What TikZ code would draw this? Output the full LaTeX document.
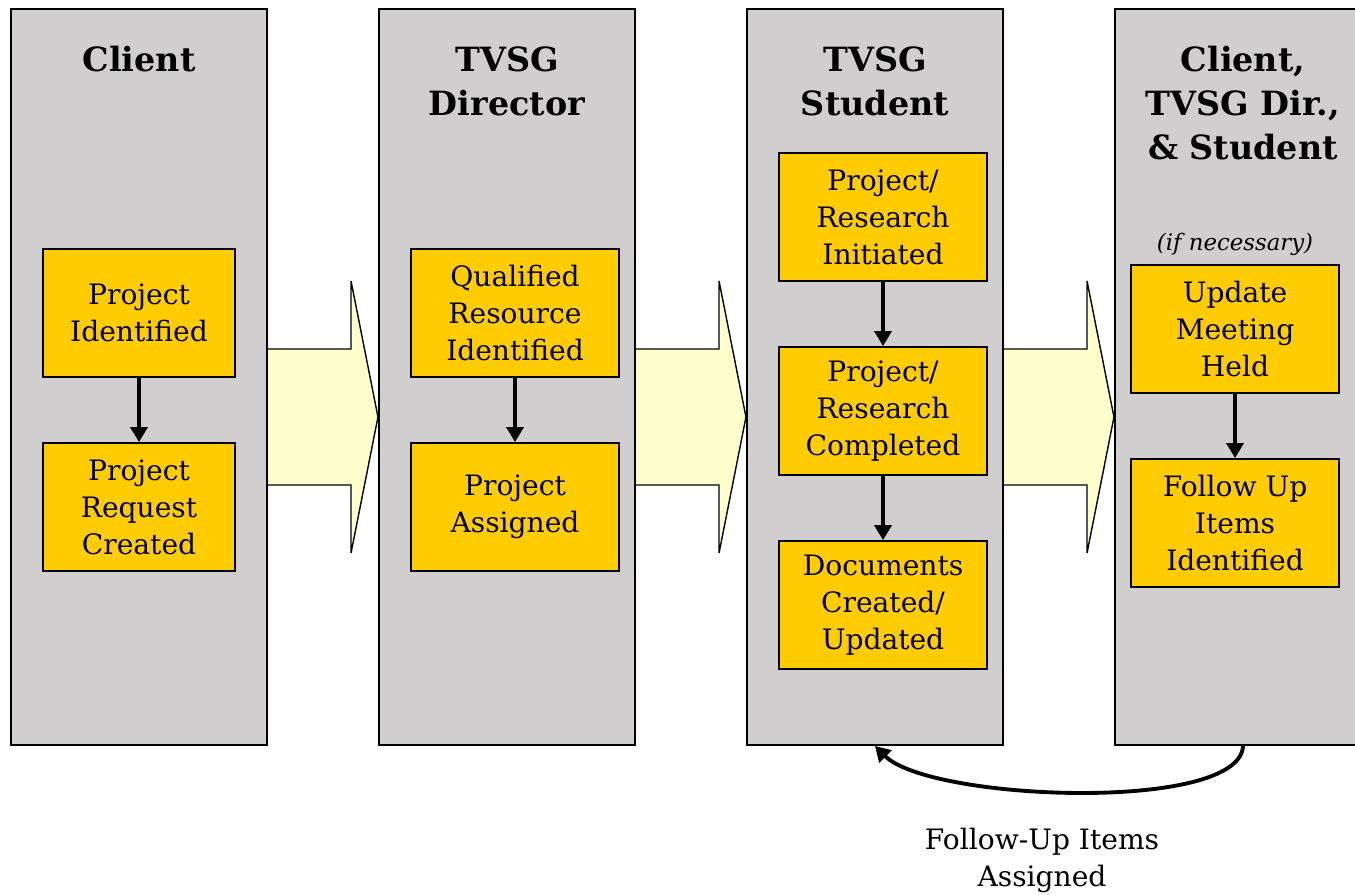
\documentclass[tikz,border=0pt]{standalone}
\usepackage{fontspec}
\setmainfont{DejaVu Serif}
\usepackage{tikz}
\usetikzlibrary{positioning, calc, arrows.meta}
\definecolor{lanegray}{RGB}{208,206,207}
\definecolor{taskgold}{RGB}{255,204,0}
\definecolor{flowyellow}{RGB}{255,255,204}
\tikzstyle{lane} = [rectangle, minimum width=5.12cm, minimum height=14.72cm, draw=black, line width=1.2pt, fill=lanegray, inner sep=0pt]
\tikzstyle{lanetitle} = [font=\fontsize{19}{25}\selectfont\bfseries, align=center, inner sep=0pt]
\tikzstyle{task} = [rectangle, minimum width=4.16cm, minimum height=2.56cm, text centered, align=center, draw=black, line width=1.2pt, fill=taskgold, font=\fontsize{16}{21}\selectfont]
\tikzstyle{note} = [font=\fontsize{16}{21}\selectfont, align=center, inner sep=0pt]
\tikzstyle{arrow} = [line width=2.2pt,->,>={Triangle[length=0.3cm,width=0.34cm]}]
\tikzstyle{bigarrow} = [draw=black, line width=0.8pt, fill=flowyellow]

\begin{document}
\begin{tikzpicture}[x=0.02cm, y=-0.02cm]
\useasboundingbox (0,0) rectangle (1355,894);
% lanes
\node (client) [lane] at (139,377) {};
\node (director) [lane] at (507,377) {};
\node (student) [lane] at (875,377) {};
\node (team) [lane] at (1243,377) {};
\node (clientT) [lanetitle, below=0.76cm of client.north] {Client};
\node (directorT) [lanetitle, below=0.76cm of director.north] {TVSG\\Director};
\node (studentT) [lanetitle, below=0.76cm of student.north] {TVSG\\Student};
\node (teamT) [lanetitle, below=0.76cm of team.north] {Client,\\TVSG Dir.,\\\& Student};

% hand-over arrows
\foreach \a/\b in {client/director, director/student, student/team}
  \draw [bigarrow] ($(\a.east)+(0,-28)$) -- ++(83,0) -- ++(0,-68) -- ($(\b.west)+(0,40)$) -- ($(\a.east)+(83,176)$) -- ++(0,-68) -- ($(\a.east)+(0,108)$);

% tasks
\node (projIdent) [task, minimum width=3.84cm] at (139,313) {Project\\Identified};
\node (projReq) [task, minimum width=3.84cm, below=1.28cm of projIdent] {Project\\Request\\Created};
\node (qualRes) [task] at (515,313) {Qualified\\Resource\\Identified};
\node (projAssign) [task, below=1.28cm of qualRes] {Project\\Assigned};
\node (resInit) [task] at (883,217) {Project/\\Research\\Initiated};
\node (resDone) [task, below=1.28cm of resInit] {Project/\\Research\\Completed};
\node (docs) [task, below=1.28cm of resDone] {Documents\\Created/\\Updated};
\node (meeting) [task] at (1235,329) {Update\\Meeting\\Held};
\node (followUp) [task, below=1.28cm of meeting] {Follow Up\\Items\\Identified};
\node (ifNeeded) [note, font=\fontsize{13}{15}\selectfont\itshape, above=0.17cm of meeting] {(if necessary)};
\node (assigned) [note] at (1042,860) {Follow-Up Items\\Assigned};

\draw [arrow] (projIdent) -- (projReq);
\draw [arrow] (qualRes) -- (projAssign);
\draw [arrow] (resInit) -- (resDone);
\draw [arrow] (resDone) -- (docs);
\draw [arrow] (meeting) -- (followUp);
\draw [arrow] (team.south) .. controls ($(team.south)+(-3,67)$) and ($(student.south)+(55,55)$) .. (student.south);
\end{tikzpicture}
\end{document}
